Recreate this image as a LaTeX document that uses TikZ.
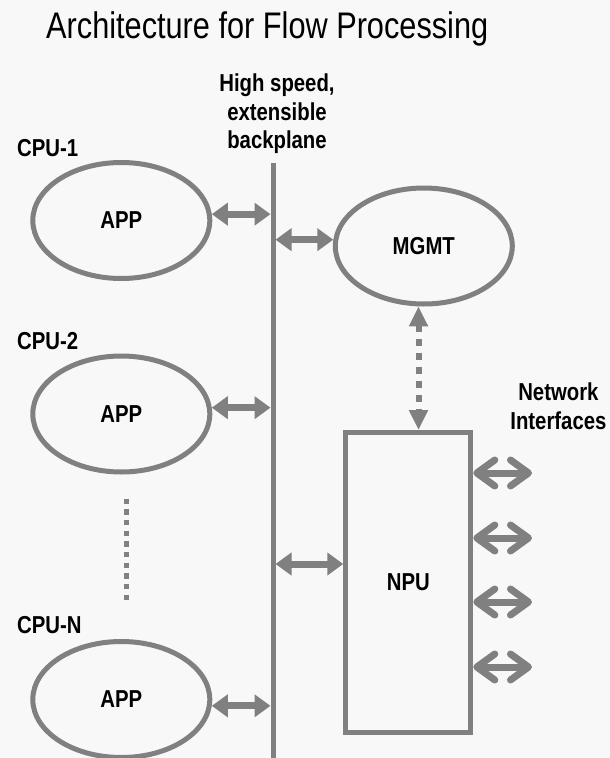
\documentclass[tikz,border=0pt]{standalone}
\usepackage{fontspec}
\setmainfont{Liberation Sans}[FakeStretch=0.83]
\usepackage{tikz}
\usetikzlibrary{arrows.meta,shapes.geometric,positioning}
\definecolor{dfgray}{RGB}{128,128,128}
\definecolor{dfbg}{RGB}{248,248,248}
\newcommand{\titlefont}{\fontsize{37}{44}\selectfont}
\newcommand{\lblfont}{\fontsize{24.5}{28.6}\selectfont\bfseries}
\tikzstyle{appnode} = [ellipse, draw=dfgray, line width=5pt, minimum width=177pt, minimum height=116pt, inner sep=0pt, font=\lblfont]
\tikzstyle{npubox} = [rectangle, draw=dfgray, line width=5pt, minimum width=125pt, minimum height=300pt, inner sep=0pt, font=\lblfont]
\tikzstyle{lbl} = [inner sep=0pt, font=\lblfont, align=center]
\tikzstyle{bparrow} = [line width=7pt, color=dfgray, {Triangle[length=16pt,width=22pt]}-{Triangle[length=16pt,width=22pt]}]
\tikzstyle{ctrlarrow} = [line width=6pt, color=dfgray, dash pattern=on 7pt off 7pt, {Triangle[length=20pt,width=18pt]}-{Triangle[length=20pt,width=18pt]}]
\tikzstyle{netarrow} = [line width=7pt, color=dfgray, {Straight Barb[length=18pt,width=26pt,round]}-{Straight Barb[length=18pt,width=26pt,round]}]
\tikzstyle{dotline} = [line width=5pt, color=dfgray, dash pattern=on 5.3pt off 5.4pt]

\begin{document}
\begin{tikzpicture}[x=1pt, y=-1pt]
\useasboundingbox (0,0) rectangle (610,758);
\fill[dfbg] (0,0) rectangle (610,758);
% Title
\node[inner sep=0pt, anchor=base west, font=\titlefont] (title) at (46,38.3) {Architecture for Flow Processing};
% Backplane
\node[fill=dfgray, minimum width=5pt, minimum height=595pt, inner sep=0pt, outer sep=0pt] (bp) at (273,460.5) {};
\node[lbl, above=8.8pt of bp.north, xshift=4pt] (bplbl) {High speed,\\extensible\\backplane};
% CPUs
\node[appnode] (app1) at (121.3,220.5) {APP};
\node[appnode] (app2) at (121.3,414) {APP};
\node[appnode] (appN) at (121.3,699.5) {APP};
\node[lbl, anchor=base west] (cpu1) at (17,156) {CPU-1};
\node[lbl, anchor=base west] (cpu2) at (17,349) {CPU-2};
\node[lbl, anchor=base west] (cpuN) at (17,633.3) {CPU-N};
% Management and network processor
\node[appnode] (mgmt) at (423.8,246) {MGMT};
\node[npubox] (npu) at (408.3,582.5) {NPU};
\node[lbl] (netlbl) at (558.4,406.5) {Network\\Interfaces};
% Connectors
\draw[bparrow] (app1.4) -- (app1.4 -| bp.west);
\draw[bparrow] (app2.4) -- (app2.4 -| bp.west);
\draw[bparrow] (appN.-4) -- (appN.-4 -| bp.west);
\draw[bparrow] (bp.east |- mgmt.176) -- (mgmt.176);
\draw[bparrow] ([yshift=18.5pt]npu.west -| bp.east) -- ([yshift=18.5pt]npu.west);
\draw[ctrlarrow] (mgmt.265) -- (mgmt.265 |- npu.north);
\draw[dotline] ([xshift=5.4pt, yshift=-24pt]app2.south) -- ([xshift=5.4pt, yshift=36pt]appN.north);
\foreach \y [count=\i] in {473,538,602,667}{
  \coordinate (nif\i) at (532,\y);
  \draw[netarrow] (npu.east |- nif\i) -- (nif\i);
}
\end{tikzpicture}
\end{document}
